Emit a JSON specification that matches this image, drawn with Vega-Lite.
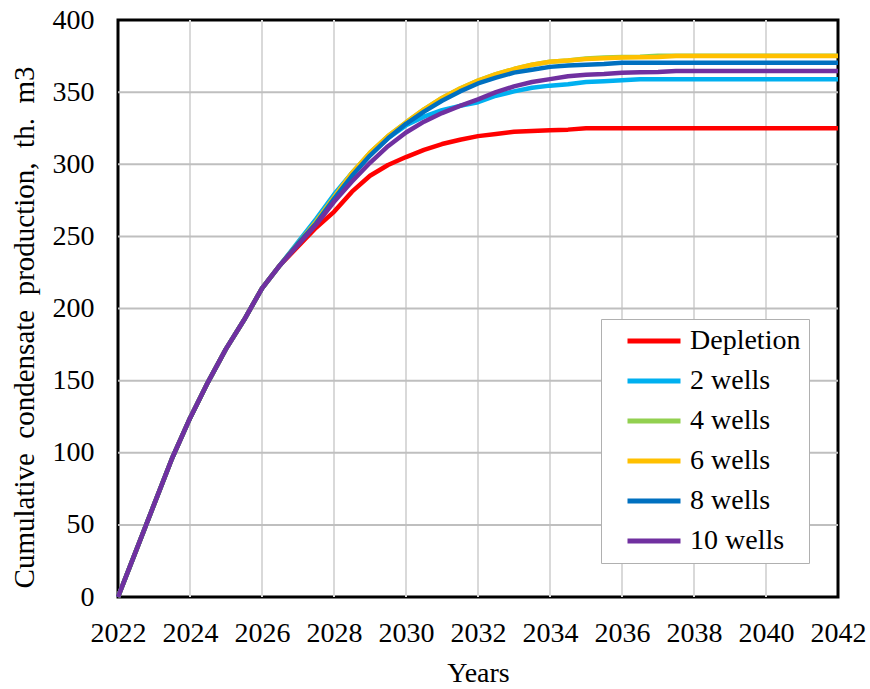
{
  "$schema": "https://vega.github.io/schema/vega-lite/v6.json",
  "autosize": "none",
  "width": 720,
  "height": 577,
  "padding": {"left": 118, "top": 20, "right": 32, "bottom": 92},
  "background": "white",
  "config": {
    "font": "Liberation Serif",
    "view": {"stroke": "black", "strokeWidth": 3},
    "axis": {
      "labelFont": "Liberation Serif",
      "titleFont": "Liberation Serif",
      "labelFontSize": 28,
      "titleFontSize": 28,
      "labelColor": "black",
      "titleColor": "black",
      "titleFontWeight": "normal",
      "domain": false,
      "ticks": false,
      "labelFlush": false,
      "labelOverlap": false
    }
  },
  "data": {
    "values": [
      {"year": 2022, "Depletion": 0, "2 wells": 0, "4 wells": 0, "6 wells": 0, "8 wells": 0, "10 wells": 0},
      {"year": 2022.5, "Depletion": 32, "2 wells": 32, "4 wells": 32, "6 wells": 32, "8 wells": 32, "10 wells": 32},
      {"year": 2023, "Depletion": 64, "2 wells": 64, "4 wells": 64, "6 wells": 64, "8 wells": 64, "10 wells": 64},
      {"year": 2023.5, "Depletion": 96, "2 wells": 96, "4 wells": 96, "6 wells": 96, "8 wells": 96, "10 wells": 96},
      {"year": 2024, "Depletion": 124, "2 wells": 124, "4 wells": 124, "6 wells": 124, "8 wells": 124, "10 wells": 124},
      {"year": 2024.5, "Depletion": 149, "2 wells": 149, "4 wells": 149, "6 wells": 149, "8 wells": 149, "10 wells": 149},
      {"year": 2025, "Depletion": 172, "2 wells": 172, "4 wells": 172, "6 wells": 172, "8 wells": 172, "10 wells": 172},
      {"year": 2025.5, "Depletion": 192, "2 wells": 192, "4 wells": 192, "6 wells": 192, "8 wells": 192, "10 wells": 192},
      {"year": 2026, "Depletion": 214, "2 wells": 214, "4 wells": 214, "6 wells": 214, "8 wells": 214, "10 wells": 214},
      {"year": 2026.5, "Depletion": 230, "2 wells": 230, "4 wells": 230, "6 wells": 230, "8 wells": 230, "10 wells": 230},
      {"year": 2027, "Depletion": 243, "2 wells": 246, "4 wells": 245, "6 wells": 245, "8 wells": 245, "10 wells": 244},
      {"year": 2027.5, "Depletion": 256, "2 wells": 262, "4 wells": 260, "6 wells": 260, "8 wells": 259, "10 wells": 258},
      {"year": 2028, "Depletion": 267, "2 wells": 279, "4 wells": 277, "6 wells": 277, "8 wells": 276, "10 wells": 274},
      {"year": 2028.5, "Depletion": 281, "2 wells": 294, "4 wells": 294, "6 wells": 294, "8 wells": 292, "10 wells": 288},
      {"year": 2029, "Depletion": 292, "2 wells": 307, "4 wells": 308, "6 wells": 308, "8 wells": 306, "10 wells": 301},
      {"year": 2029.5, "Depletion": 299.5, "2 wells": 318, "4 wells": 319.5, "6 wells": 319.5, "8 wells": 318, "10 wells": 312.5},
      {"year": 2030, "Depletion": 305, "2 wells": 327, "4 wells": 329, "6 wells": 329, "8 wells": 328, "10 wells": 322},
      {"year": 2030.5, "Depletion": 310, "2 wells": 333, "4 wells": 338, "6 wells": 338, "8 wells": 336.5, "10 wells": 329.5},
      {"year": 2031, "Depletion": 314, "2 wells": 337.5, "4 wells": 346, "6 wells": 346, "8 wells": 344, "10 wells": 335.5},
      {"year": 2031.5, "Depletion": 317, "2 wells": 340.5, "4 wells": 352.5, "6 wells": 352.5, "8 wells": 350.5, "10 wells": 340.5},
      {"year": 2032, "Depletion": 319.5, "2 wells": 343, "4 wells": 358, "6 wells": 358, "8 wells": 356, "10 wells": 345},
      {"year": 2032.5, "Depletion": 321, "2 wells": 347.5, "4 wells": 362.5, "6 wells": 362.5, "8 wells": 360, "10 wells": 350},
      {"year": 2033, "Depletion": 322.5, "2 wells": 350.5, "4 wells": 366, "6 wells": 366, "8 wells": 363.5, "10 wells": 354},
      {"year": 2033.5, "Depletion": 323, "2 wells": 353, "4 wells": 369, "6 wells": 369, "8 wells": 365.5, "10 wells": 357},
      {"year": 2034, "Depletion": 323.5, "2 wells": 354.5, "4 wells": 371, "6 wells": 371, "8 wells": 367.5, "10 wells": 359},
      {"year": 2034.5, "Depletion": 324, "2 wells": 355.5, "4 wells": 372, "6 wells": 372, "8 wells": 368.5, "10 wells": 361},
      {"year": 2035, "Depletion": 325, "2 wells": 357, "4 wells": 373.3, "6 wells": 373, "8 wells": 369, "10 wells": 362},
      {"year": 2035.5, "Depletion": 325, "2 wells": 357.5, "4 wells": 374, "6 wells": 373.5, "8 wells": 369.5, "10 wells": 362.5},
      {"year": 2036, "Depletion": 325, "2 wells": 358.2, "4 wells": 374.3, "6 wells": 374, "8 wells": 370.4, "10 wells": 363.5},
      {"year": 2036.5, "Depletion": 325, "2 wells": 359, "4 wells": 374.6, "6 wells": 374.2, "8 wells": 370.4, "10 wells": 363.8},
      {"year": 2037, "Depletion": 325, "2 wells": 359, "4 wells": 375.2, "6 wells": 374.4, "8 wells": 370.4, "10 wells": 364},
      {"year": 2037.5, "Depletion": 325, "2 wells": 359, "4 wells": 375.2, "6 wells": 375, "8 wells": 370.4, "10 wells": 364.6},
      {"year": 2038, "Depletion": 325, "2 wells": 359, "4 wells": 375.2, "6 wells": 375, "8 wells": 370.4, "10 wells": 364.6},
      {"year": 2040, "Depletion": 325, "2 wells": 359, "4 wells": 375.2, "6 wells": 375, "8 wells": 370.4, "10 wells": 364.6},
      {"year": 2042, "Depletion": 325, "2 wells": 359, "4 wells": 375.2, "6 wells": 375, "8 wells": 370.4, "10 wells": 364.6}
    ]
  },
  "transform": [
    {"fold": ["Depletion", "2 wells", "4 wells", "6 wells", "8 wells", "10 wells"], "as": ["scenario", "production"]}
  ],
  "layer": [
    {
      "mark": {"type": "rule", "color": "#d9d9d9", "strokeWidth": 2},
      "data": {"values": [{"g": 2024}, {"g": 2026}, {"g": 2028}, {"g": 2030}, {"g": 2032}, {"g": 2034}, {"g": 2036}, {"g": 2038}, {"g": 2040}]},
      "transform": [],
      "encoding": {"x": {"field": "g", "type": "quantitative"}}
    },
    {
      "mark": {"type": "rule", "color": "#bfbfbf", "strokeWidth": 2},
      "data": {"values": [{"h": 50}, {"h": 100}, {"h": 150}, {"h": 200}, {"h": 250}, {"h": 300}, {"h": 350}]},
      "transform": [],
      "encoding": {"y": {"field": "h", "type": "quantitative"}}
    },
    {
      "mark": {"type": "line", "strokeWidth": 4.5, "strokeCap": "butt", "strokeJoin": "round"},
      "encoding": {
        "x": {
          "field": "year",
          "type": "quantitative",
          "scale": {"domain": [2022, 2042], "nice": false, "zero": false},
          "axis": {"values": [2022, 2024, 2026, 2028, 2030, 2032, 2034, 2036, 2038, 2040, 2042], "format": "d", "grid": false, "labelPadding": 22, "title": "Years", "titlePadding": 12}
        },
        "y": {
          "field": "production",
          "type": "quantitative",
          "scale": {"domain": [0, 400], "nice": false},
          "axis": {"values": [0, 50, 100, 150, 200, 250, 300, 350, 400], "grid": false, "labelPadding": 24, "title": "Cumulative\u00a0\u00a0condensate\u00a0\u00a0production,\u00a0\u00a0th.\u00a0\u00a0m3", "titleFontSize": 29, "titlePadding": 13, "titleY": 307}
        },
        "color": {
          "field": "scenario",
          "type": "nominal",
          "sort": ["Depletion", "2 wells", "4 wells", "6 wells", "8 wells", "10 wells"],
          "scale": {
            "domain": ["Depletion", "2 wells", "4 wells", "6 wells", "8 wells", "10 wells"],
            "range": ["#ff0000", "#00b0f0", "#92d050", "#ffc000", "#0070c0", "#7030a0"]
          },
          "legend": {
            "title": null,
            "orient": "none",
            "legendX": 483,
            "legendY": 299,
            "padding": 8,
            "strokeColor": "#b0b0b0",
            "fillColor": "white",
            "symbolType": "stroke",
            "symbolSize": 2809,
            "symbolStrokeWidth": 5,
            "clipHeight": 28,
            "rowPadding": 12,
            "symbolOffset": 16,
            "labelOffset": 7,
            "labelFont": "Liberation Serif",
            "labelFontSize": 28,
            "labelColor": "black",
            "labelLimit": 300
          }
        },
        "order": {"field": "year", "type": "quantitative"}
      }
    }
  ]
}
